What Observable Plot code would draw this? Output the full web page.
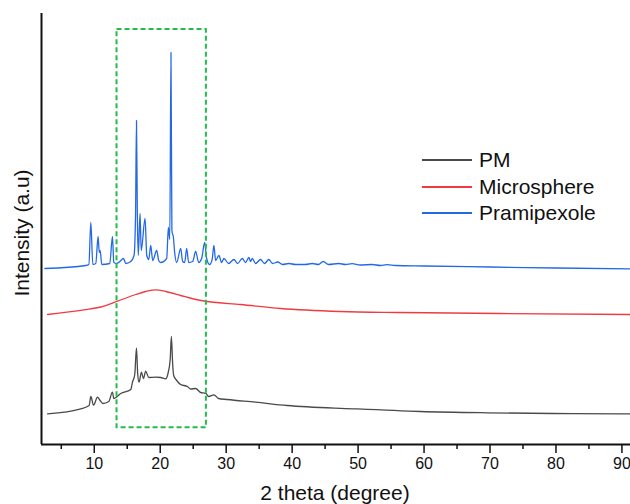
<!DOCTYPE html>
<html>
<head>
<meta charset="utf-8">
<script src="https://cdn.jsdelivr.net/npm/d3@7"></script>
<script src="https://cdn.jsdelivr.net/npm/@observablehq/plot@0.6"></script>
<style>
  html, body { margin: 0; padding: 0; background: #fff; }
  #wrap { position: relative; width: 630px; height: 504px; font-family: "Liberation Sans", Arial, sans-serif; color: #111; overflow: hidden; }
  .lbl { position: absolute; white-space: nowrap; font-size: 21px; }
  .leg { position: absolute; left: 422px; display: flex; align-items: center; font-size: 21px; }
  .leg span.sw { display: inline-block; width: 50px; height: 0; border-top: 2px solid; margin-right: 7px; }
</style>
</head>
<body>
<div id="wrap"></div>
<script>
// ---- data (2θ in degrees, intensity in arbitrary units with stacking offsets as plotted) ----
const pramTheta = [2.51,8.72,9.18,9.48,9.78,10.23,10.58,10.76,10.89,11.14,12.35,12.76,12.96,13.41,13.87,14.43,14.78,15.53,16.03,16.26,16.40,16.53,16.67,16.94,17.12,17.70,17.96,18.26,18.56,18.86,19.47,19.77,20.07,20.98,21.24,21.45,21.63,21.77,22.00,22.19,22.50,23.10,23.40,23.71,24.01,24.31,24.92,25.37,25.83,26.28,26.74,27.04,27.49,27.87,28.14,28.40,28.90,29.31,29.66,30.37,31.17,31.73,32.44,32.94,33.44,33.70,33.96,34.46,35.21,35.82,36.47,37.03,37.83,38.54,39.50,40.51,42.02,43.04,43.99,44.70,45.51,47.07,48.08,49.09,50.35,52.12,53.38,54.39,55.65,60,70,80,91.3];
const pramInt   = [176,179,180,222,180,181,208,192,194,180,181,208,182,181,183,186,181,183,189,230,324,230,189,231,194,226,189,185,199,184,194,184,182,186,217,205,392,214,207,192,182,196,183,182,196,182,183,193,182,186,202,186,180,185,199,184,189,182,186,181,185,181,186,182,187,183,186,181,185,181,185,181,182.5,180,181,180,180,181,180,183,180,181,180,180.8,179.5,180,179,179.8,179,178.5,177.5,176.5,175.7];

const microTheta = [2.92,8.46,10.99,13.52,16.29,17.80,19.32,20.83,23.10,25.07,27.14,32.18,38.24,47.32,56.40,71.54,91.3];
const microInt   = [130,134.7,137.5,143.3,150,153,154.7,153,149,145.5,143,140,136,133,132,131,130];

const pmTheta = [2.92,7.96,9.22,9.48,9.89,10.49,10.89,11.29,12.20,12.76,12.96,14.02,15.53,15.79,16.14,16.40,16.59,16.79,17.15,17.46,17.80,18.26,19.32,20.07,20.83,21.21,21.51,21.69,21.89,22.04,22.50,23.10,24.12,24.62,25.37,26.13,26.89,27.34,28.14,28.85,30.17,34.46,39.25,49.29,59.43,69.53,79.57,89.97,91.3];
const pmInt   = [30.7,35.7,39,48,39.3,47.3,44,41,43,52.3,46,51,55,62.3,70,96.7,70,62.3,72.3,66,73.3,67,67.3,67,65.7,72,85,108,80,69,64,60,58,55.5,56,52,51.3,48,49.7,46,45,42.3,39,35.7,33,31.7,31,30.7,30.6];

const seriesNames = ["PM", "Microsphere", "Pramipexole"];
const seriesColors = ["#4a4a4a", "#f03a40", "#2468e6"];

const majorTicks = [10,20,30,40,50,60,70,80,90];
const minorTicks = [5,15,25,35,45,55,65,75,85];

const boxTheta = [13.45, 27.0];
const boxInt = [16.7, 415];

const xDomain = [2, 91.3];
const yDomain = [0, 431];

// ---- build rows ----
const rows = [];
[[pmTheta, pmInt], [microTheta, microInt], [pramTheta, pramInt]].forEach(([xs, ys], i) => {
  xs.forEach((x, j) => rows.push({series: seriesNames[i], theta: x, intensity: ys[j]}));
});
const box = [{x1: boxTheta[0], x2: boxTheta[1], y1: boxInt[0], y2: boxInt[1]}];

const chart = Plot.plot({
  width: 630,
  height: 504,
  marginLeft: 41,
  marginRight: 0,
  marginTop: 13,
  marginBottom: 60,
  style: {fontFamily: "'Liberation Sans', Arial, sans-serif", fontSize: "16px", color: "#111", background: "#fff"},
  x: {domain: xDomain},
  y: {domain: yDomain},
  color: {domain: seriesNames, range: seriesColors},
  marks: [
    Plot.line(rows, {x: "theta", y: "intensity", z: "series", stroke: "series", strokeWidth: 1.3, curve: "monotone-x"}),
    Plot.rect(box, {x1: "x1", x2: "x2", y1: "y1", y2: "y2", fill: "none", stroke: "#22bb4c", strokeWidth: 2, strokeDasharray: "5,3"}),
    Plot.axisX({ticks: majorTicks, tickSize: 9, tickPadding: 4, tickFormat: d => String(d), label: null, stroke: "#111", strokeWidth: 1.5}),
    Plot.axisX({ticks: minorTicks, tickSize: 5, tickFormat: () => "", label: null, stroke: "#111", strokeWidth: 1.5}),
    Plot.axisY({ticks: [], label: null}),
    Plot.ruleY([yDomain[0]], {stroke: "#111", strokeWidth: 2}),
    Plot.ruleX([xDomain[0]], {stroke: "#111", strokeWidth: 2})
  ]
});

const wrap = document.getElementById("wrap");
wrap.appendChild(chart);

// axis titles
const xt = document.createElement("div");
xt.className = "lbl";
xt.textContent = "2 theta (degree)";
xt.style.left = "335px"; xt.style.top = "493px";
xt.style.transform = "translate(-50%, -50%)";
wrap.appendChild(xt);

const yt = document.createElement("div");
yt.className = "lbl";
yt.textContent = "Intensity (a.u)";
yt.style.left = "22px"; yt.style.top = "233px";
yt.style.transform = "translate(-50%, -50%) rotate(-90deg)";
wrap.appendChild(yt);

// legend
const legY = [160, 187, 213];
seriesNames.forEach((name, i) => {
  const d = document.createElement("div");
  d.className = "leg";
  d.style.top = (legY[i] - 13) + "px";
  d.style.height = "26px";
  const sw = document.createElement("span");
  sw.className = "sw";
  sw.style.borderColor = seriesColors[i];
  d.appendChild(sw);
  const t = document.createElement("span");
  t.textContent = name;
  d.appendChild(t);
  wrap.appendChild(d);
});
</script>
</body>
</html>
